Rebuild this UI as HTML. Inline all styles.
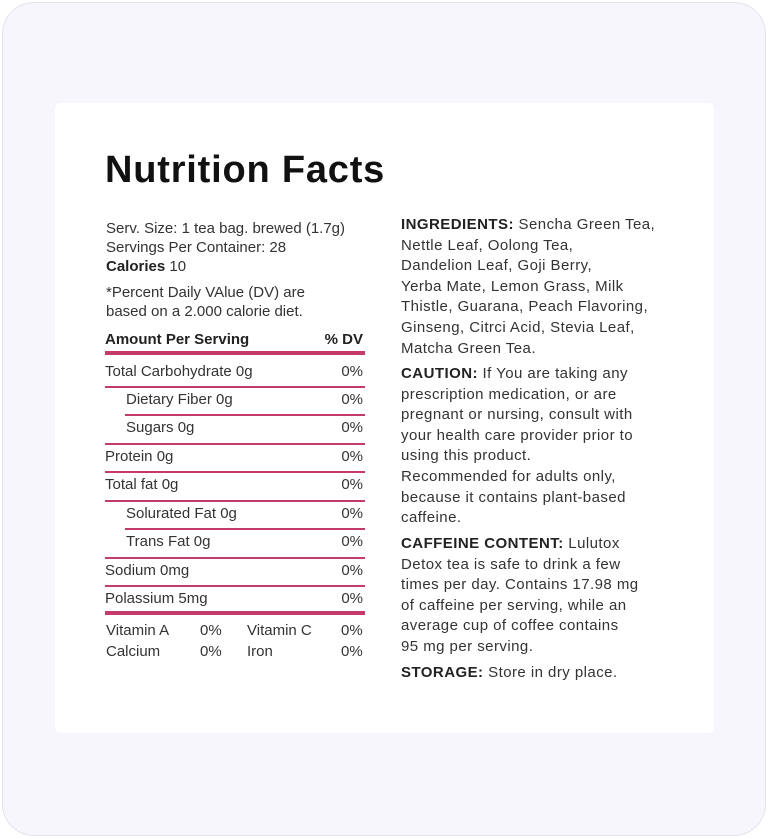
<!DOCTYPE html>
<html><head><style>
*{margin:0;padding:0;box-sizing:border-box}
body{width:768px;height:838px;background:#fff;font-family:"Liberation Sans",sans-serif;color:#333;position:relative;overflow:hidden}
.outer{position:absolute;left:2px;top:2px;width:764px;height:834px;border-radius:32px;background:#f7f6fd;border:1px solid #e4e3ea}
.card{position:absolute;left:55px;top:103px;width:659px;height:630px;background:#fff;border-radius:6px}
h1{position:absolute;left:105px;top:149px;font-size:38px;font-weight:bold;color:#111;letter-spacing:0.8px}
.t{position:absolute;font-size:15px;line-height:19px;white-space:nowrap}
.row{position:absolute;left:105px;width:260px;font-size:15px;height:20px;line-height:20px}
.row span.r{position:absolute;right:2px}
.ln{position:absolute;height:1.5px;background:#c43a6a;right:403px}
.thick{position:absolute;left:105px;width:260px;height:4px;background:#c43a6a}
.rc{position:absolute;left:401px;width:300px;font-size:15px;line-height:20.6px;letter-spacing:0.45px;white-space:nowrap}
b{color:#222}
</style></head><body>
<div class="outer"></div>
<div class="card"></div>
<h1>Nutrition Facts</h1>
<div class="t" style="left:106px;top:219px">Serv. Size: 1 tea bag. brewed (1.7g)<br>Servings Per Container: 28<br><b>Calories</b> 10</div>
<div class="t" style="left:106px;top:283px">*Percent Daily VAlue (DV) are<br>based on a 2.000 calorie diet.</div>
<div class="row" style="top:330px;font-weight:bold;color:#222">Amount Per Serving<span class="r">% DV</span></div>
<div class="thick" style="top:351px"></div>
<div class="row" style="top:362px">Total Carbohydrate 0g<span class="r">0%</span></div>
<div class="ln" style="left:105px;top:386px"></div>
<div class="row" style="top:390px;padding-left:21px">Dietary Fiber 0g<span class="r">0%</span></div>
<div class="ln" style="left:125px;top:414px"></div>
<div class="row" style="top:418px;padding-left:21px">Sugars 0g<span class="r">0%</span></div>
<div class="ln" style="left:105px;top:443px"></div>
<div class="row" style="top:447px">Protein 0g<span class="r">0%</span></div>
<div class="ln" style="left:105px;top:471px"></div>
<div class="row" style="top:475px">Total fat 0g<span class="r">0%</span></div>
<div class="ln" style="left:105px;top:500px"></div>
<div class="row" style="top:504px;padding-left:21px">Solurated Fat 0g<span class="r">0%</span></div>
<div class="ln" style="left:125px;top:528px"></div>
<div class="row" style="top:532px;padding-left:21px">Trans Fat 0g<span class="r">0%</span></div>
<div class="ln" style="left:105px;top:557px"></div>
<div class="row" style="top:561px">Sodium 0mg<span class="r">0%</span></div>
<div class="ln" style="left:105px;top:585px"></div>
<div class="row" style="top:589px">Polassium 5mg<span class="r">0%</span></div>
<div class="thick" style="top:611px"></div>
<div class="t" style="left:106px;top:621px">Vitamin A</div><div class="t" style="left:200px;top:621px">0%</div>
<div class="t" style="left:247px;top:621px">Vitamin C</div><div class="t" style="left:341px;top:621px">0%</div>
<div class="t" style="left:106px;top:642px">Calcium</div><div class="t" style="left:200px;top:642px">0%</div>
<div class="t" style="left:247px;top:642px">Iron</div><div class="t" style="left:341px;top:642px">0%</div>
<div class="rc" style="top:215px"><b>INGREDIENTS:</b> Sencha Green Tea,<br>Nettle Leaf, Oolong Tea,<br>Dandelion Leaf, Goji Berry,<br>Yerba Mate, Lemon Grass, Milk<br>Thistle, Guarana, Peach Flavoring,<br>Ginseng, Citrci Acid, Stevia Leaf,<br>Matcha Green Tea.</div>
<div class="rc" style="top:364px"><b>CAUTION:</b> If You are taking any<br>prescription medication, or are<br>pregnant or nursing, consult with<br>your health care provider prior to<br>using this product.<br>Recommended for adults only,<br>because it contains plant-based<br>caffeine.</div>
<div class="rc" style="top:534px"><b>CAFFEINE CONTENT:</b> Lulutox<br>Detox tea is safe to drink a few<br>times per day. Contains 17.98 mg<br>of caffeine per serving, while an<br>average cup of coffee contains<br>95 mg per serving.</div>
<div class="rc" style="top:663px"><b>STORAGE:</b> Store in dry place.</div>
</body></html>
